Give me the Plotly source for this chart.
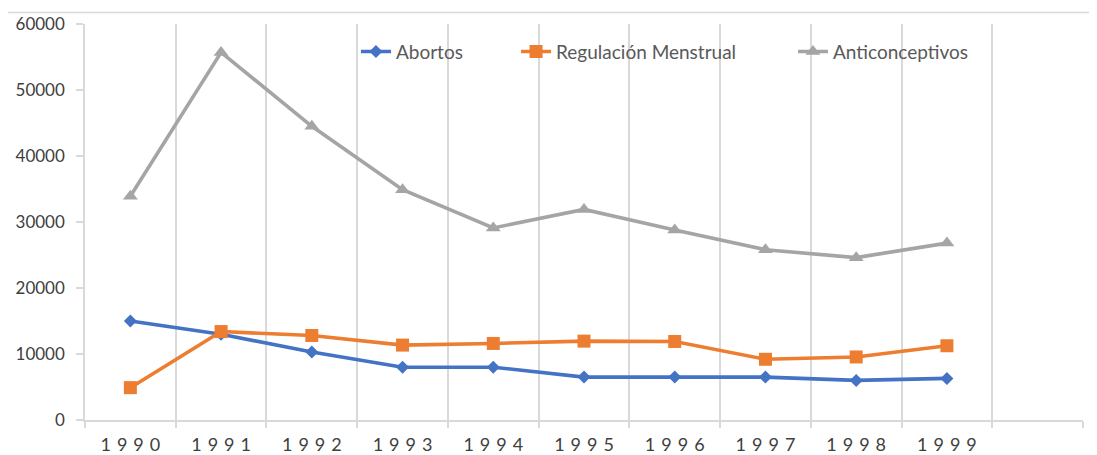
import plotly.graph_objects as go

SP = "\u2004"
years = [1990, 1991, 1992, 1993, 1994, 1995, 1996, 1997, 1998, 1999]
year_labels = [SP.join(list(str(y))) for y in ["1990", "1991", "1992", "1993", "1994",
                                                  "1995", "1996", "1997", "1998", "1999"]]
abortos = [15000, 13000, 10300, 8000, 8000, 6500, 6500, 6500, 6000, 6300]
regulacion = [4900, 13400, 12800, 11350, 11600, 11950, 11900, 9200, 9550, 11250]
anticonceptivos = [33900, 55700, 44500, 34900, 29100, 31900, 28800, 25800, 24600, 26800]
y_ticks = [0, 10000, 20000, 30000, 40000, 50000, 60000]

fig = go.Figure()
fig.add_trace(go.Scatter(x=years, y=abortos, name="Abortos", mode="lines+markers",
                         line=dict(color="#4472C4", width=3.6),
                         marker=dict(symbol="diamond", size=10, color="#4472C4"),
                         legend="legend"))
fig.add_trace(go.Scatter(x=years, y=regulacion, name="Regulación Menstrual", mode="lines+markers",
                         line=dict(color="#ED7D31", width=3.6),
                         marker=dict(symbol="square", size=13, color="#ED7D31"),
                         legend="legend2"))
fig.add_trace(go.Scatter(x=years, y=anticonceptivos, name="Anticonceptivos", mode="lines+markers",
                         line=dict(color="#A5A5A5", width=3.6),
                         marker=dict(symbol="triangle-up", size=13, color="#A5A5A5"),
                         legend="legend3"))

boundaries = [y - 0.5 for y in years] + [years[-1] + 0.5, years[-1] + 1.5]

legend_font = dict(family="Lato", size=19, color="#595959")
common_leg = dict(orientation="h", yanchor="middle", y=0.93, xanchor="left",
                  font=legend_font, bgcolor="rgba(0,0,0,0)", borderwidth=0)

fig.update_layout(
    width=1089, height=447,
    margin=dict(l=77, r=14, t=16, b=35),
    paper_bgcolor="white", plot_bgcolor="white",
    showlegend=True,
    legend=dict(x=0.2715, **common_leg),
    legend2=dict(x=0.4319, **common_leg),
    legend3=dict(x=0.7094, **common_leg),
    xaxis=dict(
        range=[years[0] - 0.5, years[-1] + 1.5], automargin=False,
        tickmode="array", tickvals=years, ticktext=year_labels,
        ticks="", showgrid=False, zeroline=False,
        showline=True, linecolor="#d9d9d9", linewidth=1.5,
        tickfont=dict(family="Lato", size=18, color="#404040"),
        ticklabelstandoff=8,
        minor=dict(tickmode="array", tickvals=boundaries, showgrid=True,
                   gridcolor="#d9d9d9", gridwidth=1.5,
                   ticks="outside", ticklen=6, tickcolor="#d9d9d9", tickwidth=1.5),
    ),
    yaxis=dict(
        range=[0, 60000], tickmode="array", tickvals=y_ticks, automargin=False,
        tickformat="d", showgrid=False, zeroline=False,
        showline=True, linecolor="#d9d9d9", linewidth=1.5,
        ticks="outside", ticklen=7, tickcolor="#d9d9d9", tickwidth=1.5,
        tickfont=dict(family="Lato", size=17, color="#404040"),
        ticklabelstandoff=8,
    ),
    shapes=[dict(type="rect", xref="paper", yref="paper",
                 x0=-0.0782, x1=1.02, y0=-0.12, y1=1.029,
                 line=dict(color="#d9d9d9", width=1.5), fillcolor="rgba(0,0,0,0)",
                 layer="below")],
)

fig.write_html("out.html")
